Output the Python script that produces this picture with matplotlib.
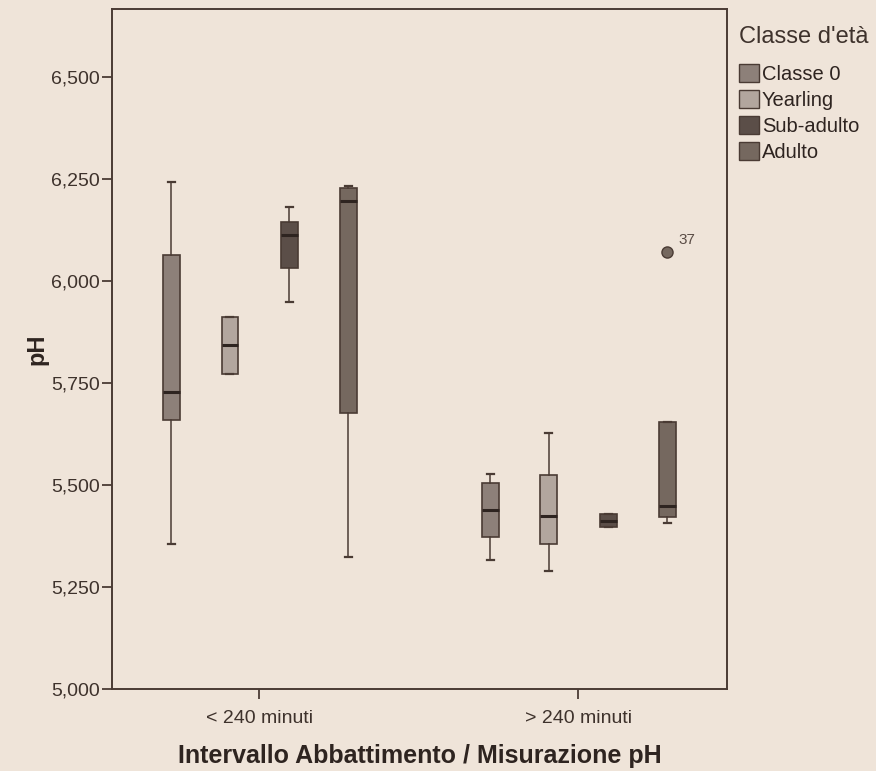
import matplotlib
matplotlib.use("Agg")
import matplotlib.pyplot as plt
from matplotlib.patches import Patch

plt.rcParams['font.family'] = ['Liberation Sans', 'DejaVu Sans']

# data (pH)
groups = ['< 240 minuti', '> 240 minuti']
classes = ['Classe 0', 'Yearling', 'Sub-adulto', 'Adulto']
colors = ['#8d8079', '#b2a69e', '#5b4e48', '#75685f']

whislo = [[5.356, 5.772, 5.950, 5.323], [5.317, 5.290, 5.397, 5.407]]
q1 = [[5.660, 5.772, 6.031, 5.677], [5.374, 5.356, 5.397, 5.423]]
med = [[5.729, 5.843, 6.112, 6.197], [5.439, 5.424, 5.413, 5.450]]
q3 = [[6.065, 5.913, 6.146, 6.228], [5.506, 5.526, 5.429, 5.654]]
whishi = [[6.244, 5.913, 6.181, 6.232], [5.528, 5.628, 5.429, 5.654]]
fliers = [[[], [], [], []], [[], [], [], [6.071]]]
flier_labels = [[[], [], [], []], [[], [], [], ['37']]]

offsets = [-0.275, -0.092, 0.095, 0.28]
bg = '#efe4d9'
ink = '#4a3b34'

fig = plt.figure(figsize=(8.76, 7.71), dpi=100, facecolor=bg)
ax = fig.add_axes([0.128, 0.106, 0.702, 0.882], facecolor=bg)

for g in range(len(groups)):
    for c in range(len(classes)):
        st = dict(med=med[g][c], q1=q1[g][c], q3=q3[g][c],
                  whislo=whislo[g][c], whishi=whishi[g][c], fliers=fliers[g][c])
        pos = g + offsets[c]
        ax.bxp([st], positions=[pos], widths=0.052, patch_artist=True,
               boxprops=dict(facecolor=colors[c], edgecolor=ink, linewidth=1.2),
               medianprops=dict(color='#2e2420', linewidth=2.2),
               whiskerprops=dict(color=ink, linewidth=1.1),
               capprops=dict(color=ink, linewidth=1.6),
               capwidths=0.022,
               flierprops=dict(marker='o', markerfacecolor=colors[c], markeredgecolor=ink,
                               markersize=8))
        for v, lab in zip(fliers[g][c], flier_labels[g][c]):
            ax.annotate(lab, (pos, v), xytext=(8, 6), textcoords='offset points',
                        fontsize=11, color='#5a4c45')

ax.set_xlim(-0.461, 1.467)
ax.set_ylim(5.0, 6.666)
ax.set_xticks(range(len(groups)))
ax.set_xticklabels(groups, fontsize=14, color='#3e322c')
yt = [5.0, 5.25, 5.5, 5.75, 6.0, 6.25, 6.5]
ax.set_yticks(yt)
ax.set_yticklabels([f'{v:.3f}'.replace('.', ',') for v in yt], fontsize=14, color='#3e322c')
ax.tick_params(direction='out', length=7, width=1.3, color=ink, pad=2)
ax.tick_params(axis='x', pad=8)
for s in ax.spines.values():
    s.set_color(ink)
    s.set_linewidth(1.4)

ax.set_xlabel('Intervallo Abbattimento / Misurazione pH', fontsize=18, fontweight='bold',
              color='#2e2420', labelpad=12)
ax.set_ylabel('pH', fontsize=17, fontweight='bold', color='#2e2420')
ax.yaxis.set_label_coords(-0.104, 0.5)

handles = [Patch(facecolor=colors[i], edgecolor=ink, label=classes[i]) for i in range(len(classes))]
leg = fig.legend(handles=handles, title="Classe d'età", loc='upper left',
                 bbox_to_anchor=(0.827, 0.985), frameon=False, fontsize=14.5,
                 title_fontsize=17, handlelength=1.0, handleheight=1.0,
                 handletextpad=0.15, labelspacing=0.3, borderpad=0.2)
leg._legend_box.align = 'left'
leg._legend_box.sep = 12
leg.get_title().set_color('#3e322c')
for t in leg.get_texts():
    t.set_color('#2e2420')

fig.savefig('out.png', dpi=100, facecolor=bg)
